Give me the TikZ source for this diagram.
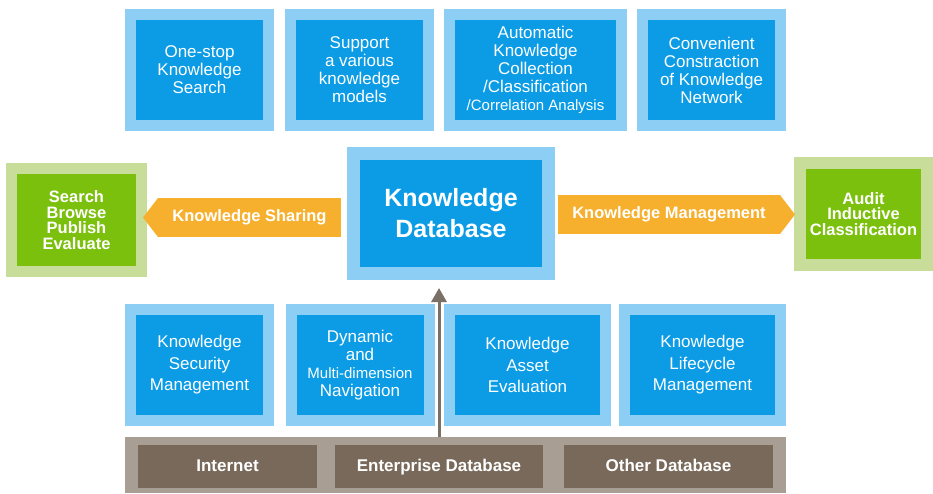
\documentclass[tikz,border=0pt]{standalone}
\usepackage{fontspec}
\setmainfont{Liberation Sans}
\usetikzlibrary{arrows.meta}
\definecolor{paleblue}{HTML}{8DCFF4}
\definecolor{deepblue}{HTML}{0B9CE5}
\definecolor{palegreen}{HTML}{C9DD9B}
\definecolor{leafgreen}{HTML}{7CC00E}
\definecolor{amber}{HTML}{F7B02D}
\definecolor{stone}{HTML}{A89E93}
\definecolor{umber}{HTML}{79695A}
\definecolor{feedline}{HTML}{7B7065}
\begin{document}
\begin{tikzpicture}[x=1pt,y=-1pt,
	featbox/.style={draw=paleblue,fill=deepblue,line width=11pt,text=white,align=center,
		inner sep=0pt,minimum width=138pt,minimum height=111pt,
		font=\fontsize{17}{18}\selectfont},
	sidebox/.style={draw=palegreen,fill=leafgreen,text=white,align=center,inner sep=0pt,
		font=\bfseries\fontsize{16.5}{15.5}\selectfont},
	flowbar/.style={fill=amber,text=white,inner sep=0pt,outer sep=0pt,minimum height=39pt,
		text height=12pt,text depth=3.5pt,font=\bfseries\fontsize{16.5}{18}\selectfont},
	srcbox/.style={fill=umber,text=white,inner sep=0pt,minimum height=43pt,
		text height=12.5pt,text depth=3.5pt,font=\bfseries\fontsize{17}{18}\selectfont}]
	\useasboundingbox (0,0) rectangle (933,493);

	% top row
	\node[featbox] (osearch) at (199.5,70) {One-stop\\Knowledge\\Search};
	\node[featbox] (models) at (359.5,70) {Support\\a various\\knowledge\\models};
	\node[featbox,minimum width=172pt] (collect) at (535.5,70)
		{Automatic\\Knowledge\\Collection\\/Classification\\{\fontsize{15}{18}\selectfont/Correlation Analysis}};
	\node[featbox] (network) at (711.5,70) {Convenient\\Constraction\\of Knowledge\\Network};

	% middle row
	\node[featbox,line width=13pt,minimum width=195pt,minimum height=120pt,
		font=\bfseries\fontsize{25}{31}\selectfont] (kd) at (451,213.5) {Knowledge\\Database};
	\node[sidebox,line width=11pt,minimum width=130pt,minimum height=103pt] (use) at (76.5,220)
		{Search\\Browse\\Publish\\Evaluate};
	\node[sidebox,line width=12pt,minimum width=127pt,minimum height=102pt] (audit) at (863.5,214)
		{Audit\\Inductive\\Classification};

	\node[flowbar,minimum width=183pt] (share) at (249.5,217.5) {Knowledge Sharing};
	\fill[amber] (share.north west) -- ([xshift=-15pt]share.west) -- (share.south west) -- cycle;
	\node[flowbar,minimum width=222pt] (mgmt) at (669,214.5) {Knowledge Management};
	\fill[amber] (mgmt.north east) -- ([xshift=15pt]mgmt.east) -- (mgmt.south east) -- cycle;

	% bottom row
	\node[featbox,font=\fontsize{17}{21.5}\selectfont] (secure) at (199.5,365) {Knowledge\\Security\\Management};
	\node[featbox] (navi) at (360,365)
		{Dynamic\\and\\{\fontsize{15}{18}\selectfont Multi-dimension}\\Navigation};
	\node[featbox,minimum width=156pt,font=\fontsize{17}{21.5}\selectfont] (asset) at (527.5,365)
		{Knowledge\\Asset\\Evaluation};
	\node[featbox,minimum width=156pt,font=\fontsize{17}{21.5}\selectfont] (life) at (702.5,365)
		{Knowledge\\Lifecycle\\Management};

	% sources
	\node[fill=stone,inner sep=0pt,minimum width=661pt,minimum height=56pt] (src) at (455.5,465) {};
	\node[srcbox,minimum width=179pt] (inet) at (227.5,466.5) {Internet};
	\node[srcbox,minimum width=208pt] (ent) at (439,466.5) {Enterprise Database};
	\node[srcbox,minimum width=209pt] (other) at (668.5,466.5) {Other Database};

	\draw[feedline,line width=3pt,-{Triangle[width=15pt,length=14pt]},shorten <=8pt,shorten >=8pt]
		(ent.north) -- (ent.north |- kd.south);
\end{tikzpicture}
\end{document}
